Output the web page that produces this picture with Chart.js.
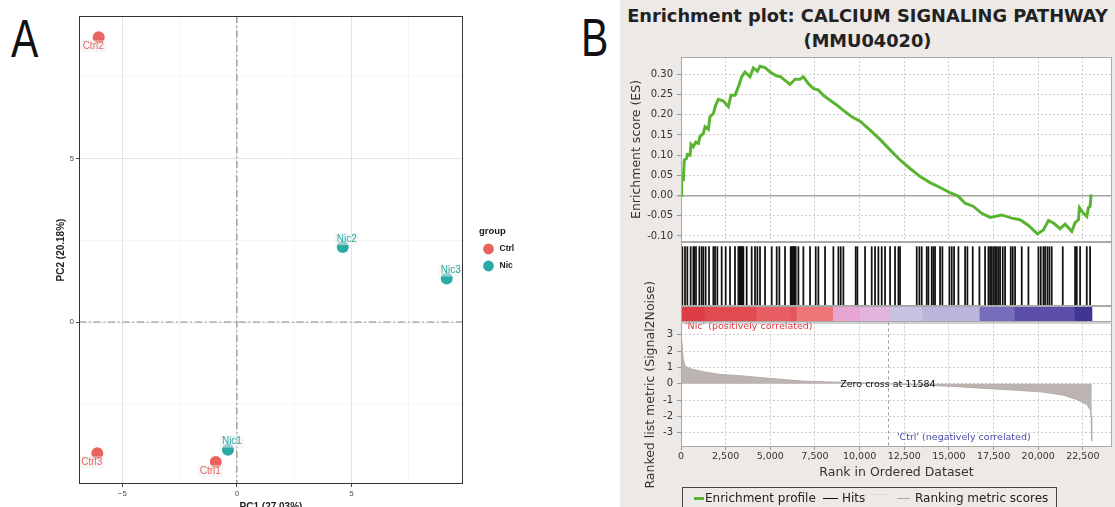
<!DOCTYPE html>
<html>
<head>
<meta charset="utf-8">
<script src="https://cdn.jsdelivr.net/npm/chart.js@4.4.1/dist/chart.umd.min.js"></script>
<style>
  html, body { margin: 0; padding: 0; width: 1115px; height: 507px; overflow: hidden; background: #fff; }
  body { position: relative; font-family: 'DejaVu Sans', sans-serif; }
  .abs { position: absolute; }
  #bgB { left: 620px; top: 0; width: 495px; height: 507px; background: #ece9e7; }
  .letter { font-family: 'Liberation Sans', Arial, sans-serif; font-size: 54px; line-height: 54px; color: #111; transform: scaleX(0.76); transform-origin: left top; }
  .ttl { left: 620px; width: 495px; text-align: center; font-weight: bold; font-size: 17.8px; line-height: 20px; color: #222; white-space: nowrap; }
  #legB { left: 682px; top: 487px; width: 373px; height: 40px; border: 1.5px solid #444; }
  .lg { font-size: 12px; line-height: 14px; top: 491px; color: #222; white-space: nowrap; }
  .sw { height: 1.4px; }
</style>
</head>
<body>
<div id="bgB" class="abs"></div>
<div class="abs letter" style="left:11px;top:11px;">A</div>
<div class="abs letter" style="left:581px;top:10px;">B</div>
<div class="abs ttl" style="top:6px;">Enrichment plot: CALCIUM SIGNALING PATHWAY</div>
<div class="abs ttl" style="top:31px;">(MMU04020)</div>

<canvas id="pca" class="abs" style="left:0;top:0;" width="560" height="520"></canvas>
<canvas id="es" class="abs" style="left:620px;top:30px;" width="495" height="230"></canvas>
<canvas id="hits" class="abs" style="left:681px;top:242px;background:#fff;" width="431" height="64"></canvas>
<canvas id="cbar" class="abs" style="left:681px;top:306px;background:#fff;" width="431" height="16"></canvas>
<canvas id="ranked" class="abs" style="left:620px;top:270px;" width="495" height="237"></canvas>

<div id="legB" class="abs"></div>
<div class="abs sw" style="left:694px;top:497px;width:10px;height:2.6px;background:#5bb431;"></div>
<div class="abs lg" style="left:705px;">Enrichment profile</div>
<div class="abs sw" style="left:823px;top:498px;width:15px;background:#111;"></div>
<div class="abs lg" style="left:842px;">Hits</div>
<div class="abs sw" style="left:873px;top:494px;width:14px;background:#d6d6d6;"></div>
<div class="abs sw" style="left:897px;top:498px;width:13px;background:#aaa;"></div>
<div class="abs lg" style="left:915px;">Ranking metric scores</div>

<script>
// ---------- Panel A: PCA ----------
const sampleNames  = ['Ctrl1', 'Ctrl2', 'Ctrl3', 'Nic1', 'Nic2', 'Nic3'];
const sampleGroups = ['Ctrl', 'Ctrl', 'Ctrl', 'Nic', 'Nic', 'Nic'];
const pc1Values    = [-0.92, -6.03, -6.09, -0.39, 4.62, 9.16];
const pc2Values    = [-4.28, 8.70, -4.01, -3.90, 2.29, 1.33];
const groupNames   = ['Ctrl', 'Nic'];
const pc1Ticks     = [-5, -2.5, 0, 2.5, 5, 7.5];
const pc2Ticks     = [-2.5, 0, 2.5, 5, 7.5];
const pc1Title     = 'PC1 (27.03%)';
const pc2Title     = 'PC2 (20.18%)';

// ---------- Panel B: GSEA ----------
const esRanks = [0, 37, 130, 186, 317, 355, 504, 560, 690, 821, 971, 1064, 1251, 1344, 1531, 1624, 1811, 1941,
  2091, 2371, 2651, 2800, 3024, 3211, 3397, 3584, 3864, 4051, 4275, 4424, 4704, 4984, 5357, 5544, 5824, 6104,
  6384, 6664, 6851, 7131, 7411, 7691, 7971, 8344, 8717, 9091, 9557, 10024, 10584, 11144, 11704, 12264, 12824,
  13384, 13944, 14504, 15064, 15531, 15904, 16371, 16837, 17304, 17957, 18517, 18984, 19451, 19955, 20291,
  20571, 20851, 21224, 21504, 21877, 22064, 22251, 22307, 22531, 22717, 22811, 22904, 22960];
const esValues = [0, 0.039, 0.039, 0.088, 0.092, 0.102, 0.100, 0.127, 0.121, 0.132, 0.129, 0.146, 0.154, 0.170,
  0.164, 0.195, 0.203, 0.224, 0.238, 0.234, 0.220, 0.248, 0.248, 0.269, 0.294, 0.306, 0.294, 0.316, 0.308, 0.320,
  0.317, 0.306, 0.296, 0.295, 0.285, 0.275, 0.288, 0.288, 0.294, 0.277, 0.265, 0.261, 0.248, 0.236, 0.224, 0.211,
  0.195, 0.184, 0.162, 0.139, 0.113, 0.088, 0.067, 0.047, 0.032, 0.020, 0.007, -0.002, -0.019, -0.027, -0.044,
  -0.054, -0.048, -0.056, -0.060, -0.074, -0.095, -0.085, -0.062, -0.068, -0.082, -0.071, -0.089, -0.067, -0.060,
  -0.030, -0.044, -0.052, -0.030, -0.027, 0.003];

const hitRanks = [75, 224, 355, 541, 691, 740, 840, 1027, 1157, 1251, 1381, 1568, 1811, 1904, 2035, 2277, 2501,
  2744, 3024, 3211, 3260, 3304, 3350, 3397, 3445, 3491, 3677, 3957, 4144, 4275, 4424, 4704, 5077, 5357, 5507,
  5824, 6141, 6190, 6235, 6280, 6328, 6375, 6421, 6571, 6851, 7224, 7541, 7691, 8064, 8531, 8811, 8941, 9091,
  9781, 9875, 10304, 10677, 10864, 11051, 11237, 11424, 11704, 11984, 12171, 12264, 13197, 13347, 13477, 13757,
  13851, 14037, 14131, 14224, 14504, 14635, 15027, 15157, 15288, 15531, 15904, 16035, 16333, 16707, 17024,
  17211, 17304, 17397, 17491, 17584, 17677, 17771, 17864, 18013, 18144, 18461, 18573, 18704, 19077, 19451,
  20011, 20141, 20291, 20384, 20515, 20627, 20755, 21373, 22064, 22157, 22344, 22717, 22904];

// colour bar bands (rank edges)
const bandEdges = [0, 1300, 4200, 6100, 6450, 8490, 10000, 11660, 13500, 16700, 18660, 22020, 23010];

const metricRanks  = [0, 20, 75, 130, 224, 504, 1251, 2184, 3117, 4984, 6851, 8717, 10584, 11584, 13384, 15251,
  17117, 18984, 20291, 21411, 22157, 22717, 22904, 22960, 22990, 23000];
const metricValues = [3.45, 2.9, 2.2, 1.5, 1.09, 0.92, 0.74, 0.57, 0.51, 0.33, 0.16, 0.10, 0.04, 0, -0.08, -0.16,
  -0.29, -0.41, -0.51, -0.70, -0.96, -1.27, -1.58, -2.0, -2.6, -3.5];
const zeroCross = 11584;

const rankTicks   = [0, 2500, 5000, 7500, 10000, 12500, 15000, 17500, 20000, 22500];
const esTicks     = [-0.10, -0.05, 0, 0.05, 0.10, 0.15, 0.20, 0.25, 0.30];
const metricTicks = [-3, -2, -1, 0, 1, 2, 3];

// ---------- styles ----------
const RANK_MAX = 24130;
const groupColor = { Ctrl: '#e8645c', Nic: '#2aa9a5' };
const bandPalette = ['#dc3c44', '#e24a51', '#e85e63', '#e4555b', '#ee7676', '#e9a5d2', '#e4b4dd', '#c9c3e3',
  '#bdb4dc', '#776dbd', '#5b4ea8', '#3e3594'];
const GRID_B = '#cdcdcd';

Chart.defaults.font.family = "'DejaVu Sans', sans-serif";
Chart.defaults.animation = false;

const setTicks = list => scale => { scale.ticks = list.map(v => ({ value: v })); };
const isZero = ctx => ctx.tick && Math.abs(ctx.tick.value) < 1e-9;

const framePlugin = color => ({
  id: 'frame',
  afterDraw(chart) {
    const { ctx, chartArea: a } = chart;
    ctx.save();
    ctx.strokeStyle = color;
    ctx.lineWidth = 1;
    ctx.strokeRect(a.left + 0.5, a.top + 0.5, a.right - a.left - 1, a.bottom - a.top - 1);
    ctx.restore();
  }
});

const whiteArea = {
  id: 'whiteArea',
  beforeDraw(chart) {
    const { ctx, chartArea: a } = chart;
    ctx.save();
    ctx.fillStyle = '#fff';
    ctx.fillRect(a.left, a.top, a.right - a.left, a.bottom - a.top);
    ctx.restore();
  }
};

// ---------- A ----------
const pcaPoints = sampleNames.map((n, i) => ({ x: pc1Values[i], y: pc2Values[i], name: n, group: sampleGroups[i] }));

const pcaExtras = {
  id: 'pcaExtras',
  beforeDatasetsDraw(chart) {
    const { ctx, chartArea: a, scales: { x, y } } = chart;
    const x0 = x.getPixelForValue(0), y0 = y.getPixelForValue(0);
    ctx.save();
    ctx.strokeStyle = '#8d8d8d';
    ctx.lineWidth = 1.2;
    ctx.setLineDash([7, 3, 1.5, 3]);
    ctx.beginPath();
    ctx.moveTo(x0, a.top); ctx.lineTo(x0, a.bottom);
    ctx.moveTo(a.left, y0); ctx.lineTo(a.right, y0);
    ctx.stroke();
    ctx.restore();
  },
  afterDatasetsDraw(chart) {
    const { ctx, chartArea: a, scales: { x, y } } = chart;
    ctx.save();
    ctx.font = "10px 'Liberation Sans', Arial, sans-serif";
    ctx.textAlign = 'center';
    ctx.textBaseline = 'middle';
    pcaPoints.forEach(p => {
      const above = p.group === 'Nic';
      const cx = x.getPixelForValue(p.x) + (above ? 4 : -5.5);
      const cy = y.getPixelForValue(p.y) + (above ? -8 : 9);
      const w = ctx.measureText(p.name).width + 4;
      ctx.fillStyle = 'rgba(238,238,238,0.55)';
      ctx.fillRect(cx - w / 2, cy - 6, w, 12);
      ctx.fillStyle = groupColor[p.group];
      ctx.fillText(p.name, cx, cy);
    });
    // legend
    const lx = a.right + 16, cy = (a.top + a.bottom) / 2;
    ctx.textAlign = 'left';
    ctx.fillStyle = '#1a1a1a';
    ctx.font = "bold 9.5px 'Liberation Sans', Arial, sans-serif";
    ctx.fillText('group', lx, cy - 19);
    groupNames.forEach((g, i) => {
      const ky = cy - 1 + i * 17;
      ctx.fillStyle = groupColor[g];
      ctx.beginPath();
      ctx.arc(lx + 9.5, ky, 5.4, 0, Math.PI * 2);
      ctx.fill();
      ctx.fillStyle = '#1a1a1a';
      ctx.font = "bold 8.5px 'Liberation Sans', Arial, sans-serif";
      ctx.fillText(g, lx + 20.5, ky);
    });
    ctx.restore();
  }
};

const pcaAxis = (ticks, title, fit) => ({
  type: 'linear',
  afterBuildTicks: setTicks(ticks),
  afterFit: fit,
  ticks: {
    autoSkip: false, maxRotation: 0, padding: 2,
    color: '#4d4d4d', font: { family: "'Liberation Sans', Arial, sans-serif", size: 8 },
    callback: v => (v % 5 === 0 ? String(v).replace('-', '\u2212') : '')
  },
  grid: {
    color: ctx => (ctx.tick && ctx.tick.value % 5 === 0 ? '#e3e3e3' : '#efefef'),
    lineWidth: ctx => (ctx.tick && ctx.tick.value % 5 === 0 ? 1 : 0.6),
    tickColor: ctx => (ctx.tick && ctx.tick.value % 5 === 0 ? '#444' : 'rgba(0,0,0,0)'),
    tickLength: 3
  },
  border: { display: false },
  title: { display: true, text: title, color: '#222', padding: { top: 4, bottom: 4 },
    font: { family: "'Liberation Sans', Arial, sans-serif", size: 10, weight: 'bold' } }
});

new Chart(document.getElementById('pca'), {
  type: 'scatter',
  data: {
    datasets: groupNames.map(g => ({
      label: g,
      data: pcaPoints.filter(p => p.group === g),
      backgroundColor: groupColor[g],
      borderColor: groupColor[g],
      pointRadius: 6,
      borderWidth: 0
    }))
  },
  options: {
    responsive: false,
    layout: { padding: { left: 51.7, top: 16, right: 97, bottom: 3 } },
    plugins: { legend: { display: false }, tooltip: { enabled: false } },
    scales: {
      x: Object.assign(pcaAxis(pc1Ticks, pc1Title, s => { s.height = 33; }), { min: -6.89, max: 9.87 }),
      y: Object.assign(pcaAxis(pc2Ticks, pc2Title, s => { s.width = 27.3; }), { min: -4.95, max: 9.35 })
    }
  },
  plugins: [pcaExtras, framePlugin('#333')]
});

// ---------- B: running enrichment score ----------
new Chart(document.getElementById('es'), {
  type: 'line',
  data: {
    datasets: [{
      data: esRanks.map((r, i) => ({ x: r, y: esValues[i] })),
      borderColor: '#5bb431', borderWidth: 3, pointRadius: 0, tension: 0, fill: false
    }]
  },
  options: {
    responsive: false,
    layout: { padding: { left: 5.5, top: 27, right: 3, bottom: 18 } },
    plugins: { legend: { display: false }, tooltip: { enabled: false } },
    scales: {
      x: {
        type: 'linear', min: 0, max: RANK_MAX, offset: false,
        afterBuildTicks: setTicks(rankTicks),
        afterFit: s => { s.height = 0; },
        ticks: { display: false },
        grid: { color: GRID_B, drawTicks: false },
        border: { display: false, dash: [2, 2] }
      },
      y: {
        min: -0.115, max: 0.343,
        afterBuildTicks: setTicks(esTicks),
        afterFit: s => { s.width = 55.5; },
        ticks: { callback: v => v.toFixed(2), font: { size: 10 }, color: '#333', padding: 4 },
        grid: { color: ctx => (isZero(ctx) ? '#a3a3a3' : GRID_B), lineWidth: ctx => (isZero(ctx) ? 1.5 : 1),
          tickLength: 4, tickColor: '#999' },
        border: { display: false, dash: ctx => (isZero(ctx) ? [] : [2, 2]) },
        title: { display: true, text: 'Enrichment score (ES)', font: { size: 12.5 }, color: '#333',
          padding: { top: 4, bottom: 4 } }
      }
    }
  },
  plugins: [whiteArea, framePlugin('#a9a9a9')]
});

// ---------- B: hits ----------
new Chart(document.getElementById('hits'), {
  type: 'bar',
  data: {
    datasets: [{
      data: hitRanks.map(r => ({ x: r, y: 1 })),
      backgroundColor: '#111', borderWidth: 0, barThickness: 1.1
    }]
  },
  options: {
    responsive: false,
    layout: { padding: 0 },
    plugins: { legend: { display: false }, tooltip: { enabled: false } },
    scales: {
      x: { type: 'linear', min: 0, max: RANK_MAX, offset: false, display: false },
      y: { min: 0, max: 1.079, display: false }
    }
  },
  plugins: [framePlugin('#a9a9a9')]
});

// ---------- B: colour bar ----------
new Chart(document.getElementById('cbar'), {
  type: 'bar',
  data: {
    labels: [''],
    datasets: bandPalette.map((c, i) => ({
      data: [[bandEdges[i], bandEdges[i + 1]]],
      backgroundColor: c, borderWidth: 0, grouped: false,
      barPercentage: 1, categoryPercentage: 1
    }))
  },
  options: {
    indexAxis: 'y',
    responsive: false,
    layout: { padding: 0 },
    plugins: { legend: { display: false }, tooltip: { enabled: false } },
    scales: {
      x: { type: 'linear', min: 0, max: RANK_MAX, display: false },
      y: { display: false }
    }
  },
  plugins: [framePlugin('#a9a9a9')]
});

// ---------- B: ranked list metric ----------
const rankedNotes = {
  id: 'rankedNotes',
  beforeDatasetsDraw(chart) {
    const { ctx, chartArea: a, scales: { x } } = chart;
    const zx = Math.round(x.getPixelForValue(zeroCross)) + 0.5;
    ctx.save();
    ctx.strokeStyle = '#9d9d9d';
    ctx.setLineDash([3, 3]);
    ctx.beginPath();
    ctx.moveTo(zx, a.top); ctx.lineTo(zx, a.bottom);
    ctx.stroke();
    ctx.restore();
  },
  afterDatasetsDraw(chart) {
    const { ctx, chartArea: a, scales: { x, y } } = chart;
    const zx = x.getPixelForValue(zeroCross);
    ctx.save();
    ctx.font = "9.5px 'DejaVu Sans', sans-serif";
    ctx.textBaseline = 'middle';
    ctx.textAlign = 'center';
    ctx.fillStyle = '#111';
    ctx.fillText('Zero cross at ' + zeroCross, zx, y.getPixelForValue(0) + 0.5);
    ctx.textAlign = 'left';
    ctx.fillStyle = '#e0363c';
    ctx.fillText("'Nic' (positively correlated)", a.left + 4, a.top + 4.5);
    ctx.fillStyle = '#4a4aa8';
    ctx.fillText("'Ctrl' (negatively correlated)", zx + 9, a.bottom - 9.5);
    ctx.restore();
  }
};

new Chart(document.getElementById('ranked'), {
  type: 'line',
  data: {
    datasets: [{
      data: metricRanks.map((r, i) => ({ x: r, y: metricValues[i] })),
      fill: 'origin', backgroundColor: '#bcb4b1', borderColor: '#b3aba8', borderWidth: 1,
      pointRadius: 0, tension: 0
    }]
  },
  options: {
    responsive: false,
    layout: { padding: { left: 19.5, top: 52.5, right: 3, bottom: 23.2 } },
    plugins: { legend: { display: false }, tooltip: { enabled: false } },
    scales: {
      x: {
        type: 'linear', min: 0, max: RANK_MAX, offset: false,
        afterBuildTicks: setTicks(rankTicks),
        afterFit: s => { s.height = 36.8; },
        ticks: { callback: v => v.toLocaleString('en-US'), font: { size: 9.5 }, color: '#333', padding: 1,
          autoSkip: false, maxRotation: 0 },
        grid: { color: GRID_B, tickLength: 3, tickColor: '#999' },
        border: { display: false, dash: [2, 2] },
        title: { display: true, text: 'Rank in Ordered Dataset', font: { size: 12.5 }, color: '#333',
          padding: { top: 4, bottom: 4 } }
      },
      y: {
        min: -3.87, max: 3.75,
        afterBuildTicks: setTicks(metricTicks),
        afterFit: s => { s.width = 41.5; },
        ticks: { font: { size: 10 }, color: '#333', padding: 4 },
        grid: { color: GRID_B, tickLength: 4, tickColor: '#999' },
        border: { display: false, dash: [2, 2] },
        title: { display: true, text: 'Ranked list metric (Signal2Noise)', font: { size: 12.5 }, color: '#333',
          padding: { top: 4, bottom: 4 } }
      }
    }
  },
  plugins: [whiteArea, rankedNotes, framePlugin('#a9a9a9')]
});
</script>
</body>
</html>
